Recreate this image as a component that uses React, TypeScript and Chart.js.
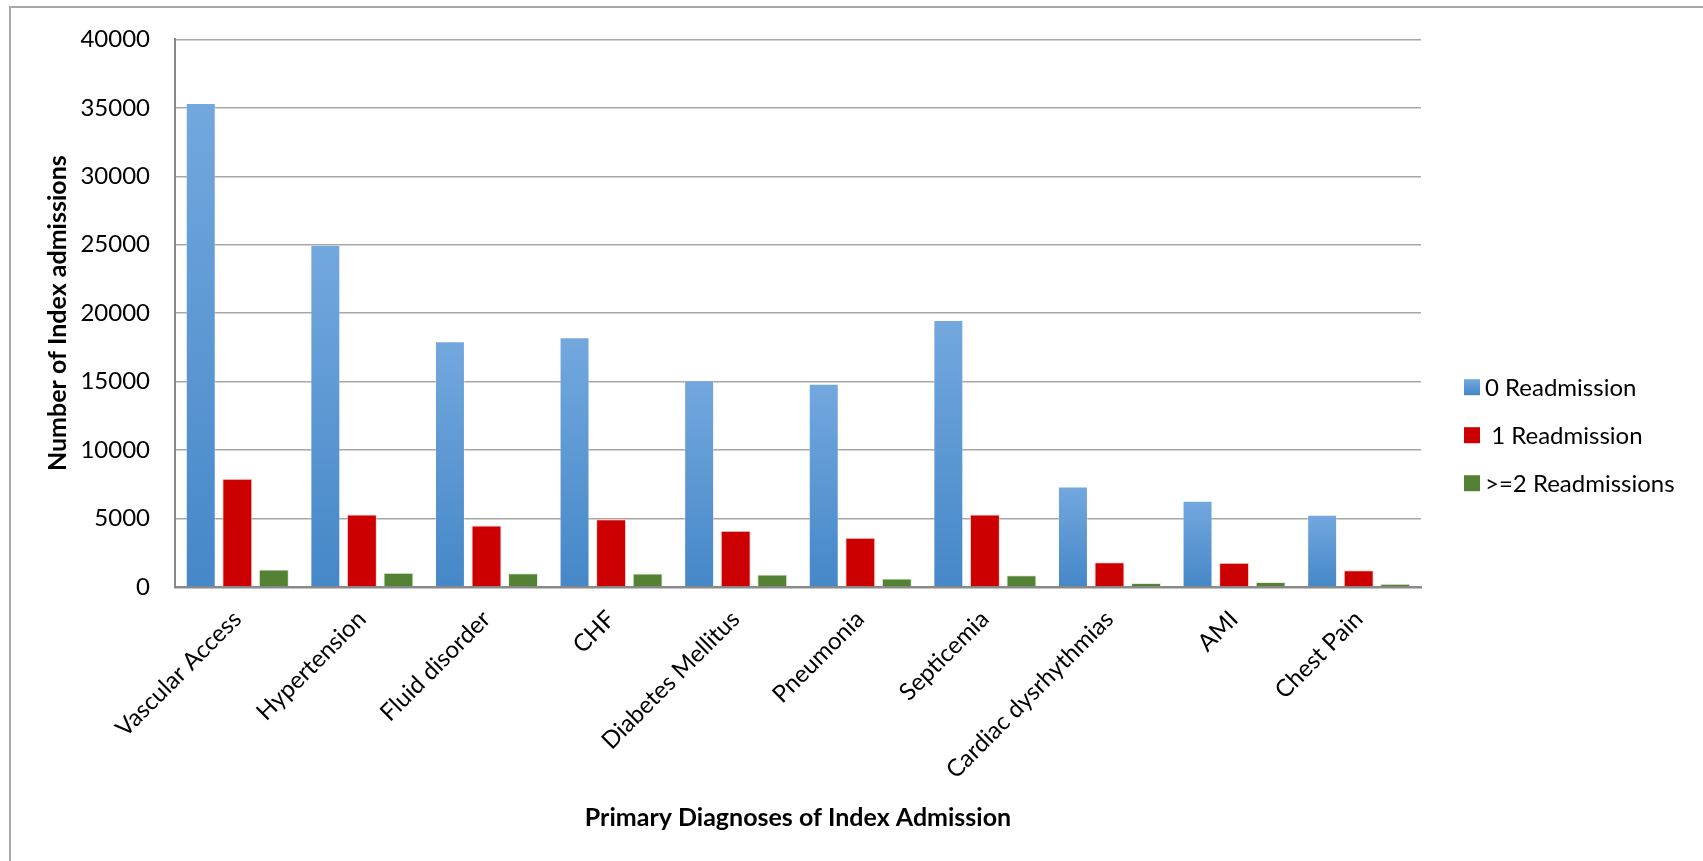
import React, { useEffect, useRef } from "react";
import { Chart, registerables } from "chart.js";

Chart.register(...registerables);

const categories = [
  "Vascular Access",
  "Hypertension",
  "Fluid disorder",
  "CHF",
  "Diabetes Mellitus",
  "Pneumonia",
  "Septicemia",
  "Cardiac dysrhythmias",
  "AMI",
  "Chest Pain",
];
const seriesLabels = ["0 Readmission", " 1 Readmission", ">=2 Readmissions"];
const zeroReadmission = [35350, 25000, 17950, 18250, 15100, 14850, 19500, 7350, 6300, 5270];
const oneReadmission = [7900, 5300, 4500, 4950, 4100, 3600, 5300, 1800, 1780, 1220];
const twoReadmissions = [1280, 1050, 1000, 980, 920, 630, 850, 290, 360, 240];

const yMin = 0;
const yMax = 40000;
const yStep = 5000;

const FONT = "Lato, 'Open Sans', sans-serif";

export default function App() {
  const ref = useRef<HTMLCanvasElement | null>(null);

  useEffect(() => {
    if (!ref.current) return;

    const blueGradient = (ctx: any) => {
      const chart = ctx.chart;
      const ys = chart.scales?.y;
      if (!chart.chartArea || !ys || ctx.raw == null) return "#5b9bd5";
      const top = ys.getPixelForValue(ctx.raw);
      const bottom = ys.getPixelForValue(0);
      const g = chart.ctx.createLinearGradient(0, top, 0, bottom);
      g.addColorStop(0, "#73a8de");
      g.addColorStop(1, "#4587c8");
      return g;
    };

    const legendPlugin = {
      id: "customLegend",
      afterDraw(chart: any) {
        const c = chart.ctx;
        const x = chart.chartArea.right + 43;
        const midY = (chart.chartArea.top + chart.chartArea.bottom) / 2;
        const step = 48;
        const n = chart.data.datasets.length;
        c.save();
        c.font = `24px ${FONT}`;
        c.textBaseline = "middle";
        c.textAlign = "left";
        chart.data.datasets.forEach((ds: any, i: number) => {
          const cy = midY + 122 + (i - (n - 1) / 2) * step;
          const col = ds.legendColor;
          if (i === 0) {
            const g = c.createLinearGradient(0, cy - 8, 0, cy + 8);
            g.addColorStop(0, "#73a8de");
            g.addColorStop(1, "#4587c8");
            c.fillStyle = g;
          } else {
            c.fillStyle = col;
          }
          c.fillRect(x, cy - 8, 16, 16);
          c.fillStyle = "#000";
          c.fillText(ds.label, x + 21, cy + 1);
        });
        c.restore();
      },
    };

    const chart = new Chart(ref.current, {
      type: "bar",
      data: {
        labels: categories,
        datasets: [
          {
            label: seriesLabels[0],
            data: zeroReadmission,
            backgroundColor: blueGradient,
            borderColor: "rgba(255,255,255,0.35)",
            borderWidth: 1,
            legendColor: "#5b9bd5",
          } as any,
          {
            label: seriesLabels[1],
            data: oneReadmission,
            backgroundColor: "#cc0000",
            borderColor: "rgba(255,200,200,0.8)",
            borderWidth: 1,
            legendColor: "#cc0000",
          } as any,
          {
            label: seriesLabels[2],
            data: twoReadmissions,
            backgroundColor: "#548235",
            borderColor: "rgba(220,235,210,0.8)",
            borderWidth: 1,
            legendColor: "#548235",
          } as any,
        ],
      },
      options: {
        animation: false,
        responsive: true,
        maintainAspectRatio: false,
        devicePixelRatio: 1,
        datasets: {
          bar: {
            categoryPercentage: 0.88,
            barPercentage: 0.82,
          },
        },
        layout: {
          padding: { left: 0, top: 34, right: 282, bottom: 0 },
        },
        plugins: {
          legend: { display: false },
          tooltip: { enabled: false },
          title: { display: false },
        },
        scales: {
          x: {
            grid: { display: false, drawTicks: false },
            border: { display: true, color: "#898989", width: 2.5 },
            ticks: {
              autoSkip: false,
              maxRotation: 45,
              minRotation: 45,
              padding: 18,
              color: "#000",
              font: { family: FONT, size: 24 },
            },
            title: {
              display: true,
              text: "Primary Diagnoses of Index Admission",
              color: "#000",
              font: { family: FONT, size: 25, weight: "bold" },
              padding: { top: 0, bottom: 28 },
            },
            afterFit(scale: any) {
              scale.height = 274;
            },
          },
          y: {
            min: yMin,
            max: yMax,
            ticks: {
              stepSize: yStep,
              padding: 25,
              color: "#000",
              font: { family: FONT, size: 24 },
              callback: (v: any) => String(v),
            },
            grid: { color: "#a6a6a6", lineWidth: 1.5, drawTicks: false },
            border: { display: true, color: "#898989", width: 2 },
            title: {
              display: true,
              text: "Number of Index admissions",
              color: "#000",
              font: { family: FONT, size: 25, weight: "bold" },
              padding: { top: 43, bottom: 0 },
            },
            afterFit(scale: any) {
              scale.width = 175;
            },
          },
        },
      },
      plugins: [legendPlugin],
    });

    return () => chart.destroy();
  }, []);

  return (
    <div
      style={{
        position: "absolute",
        left: 0,
        top: 0,
        width: 1703,
        height: 861,
        background: "#fff",
        overflow: "hidden",
      }}
    >
      <div
        style={{
          position: "absolute",
          left: 9,
          top: 6,
          width: 1720,
          height: 900,
          borderLeft: "2px solid #a8a8a8",
          borderTop: "2px solid #a8a8a8",
          boxSizing: "border-box",
        }}
      />
      <canvas ref={ref} style={{ position: "absolute", left: 0, top: 0 }} />
    </div>
  );
}
